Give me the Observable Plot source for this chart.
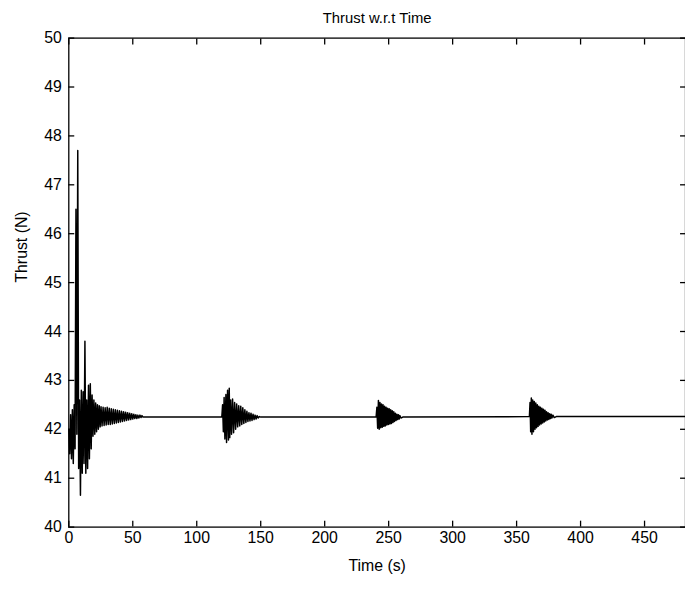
<!DOCTYPE html>
<html>
<head>
<meta charset="utf-8">
<script src="https://cdn.jsdelivr.net/npm/d3@7"></script>
<script src="https://cdn.jsdelivr.net/npm/@observablehq/plot@0.6"></script>
<style>
  html, body { margin: 0; padding: 0; background: #fff; }
  #wrap { width: 685px; height: 589px; overflow: hidden; }
  #wrap svg { font-family: "Liberation Sans", Arial, sans-serif; }
</style>
</head>
<body>
<div id="wrap"></div>
<script>
// Text
const titleText = "Thrust w.r.t Time";
const xLabel = "Time (s)";
const yLabel = "Thrust (N)";

// Tick values
const xTicks = [0, 50, 100, 150, 200, 250, 300, 350, 400, 450];
const yTicks = [40, 41, 42, 43, 44, 45, 46, 47, 48, 49, 50];

// Start-up transient (peaks / troughs)
const startTime = [0, 0.7, 1.4, 2.1, 2.8, 3.5, 4.2, 4.9, 5.6, 6.3, 7.0, 7.7, 8.4, 9.1, 9.8, 10.5, 11.2, 11.9, 12.6, 13.3,
  14.0, 14.7, 15.4, 16.1, 16.8, 17.5, 18.2, 18.9, 19.6, 20.3, 21.0, 21.7, 22.4, 23.1, 23.8, 24.5,
  25.2, 26.0, 26.8, 27.6, 28.4, 29.2, 30.0, 30.8, 31.6, 32.4, 33.2, 34.0, 34.8, 35.6, 36.4, 37.2,
  38.0, 38.8, 39.6, 40.4, 41.2, 42.0, 42.8, 43.6, 44.4, 45.2, 46.0, 46.8, 47.6, 48.4, 49.2, 50.0,
  50.8, 51.6, 52.4, 53.2, 54.0, 54.8, 55.6, 56.4, 57.2, 58.0, 60.0];
const startThrust = [42.0, 41.5, 42.3, 41.4, 42.4, 41.3, 42.5, 41.6, 46.5, 41.9, 47.7, 41.2, 42.6, 40.65, 42.8, 41.1, 42.77, 41.3, 43.8, 41.1,
  42.6, 41.2, 42.9, 41.4, 42.93, 41.6, 42.7, 41.86, 42.6, 41.9, 42.54, 41.95, 42.5, 42.0, 42.48, 42.05,
  42.46, 42.07, 42.45, 42.08, 42.44, 42.09, 42.45, 42.10, 42.43, 42.10, 42.42, 42.11, 42.41, 42.12, 42.40, 42.13,
  42.39, 42.14, 42.38, 42.15, 42.37, 42.16, 42.36, 42.17, 42.35, 42.18, 42.34, 42.19, 42.33, 42.20, 42.32, 42.21,
  42.31, 42.22, 42.30, 42.22, 42.29, 42.23, 42.29, 42.24, 42.28, 42.25, 42.25];

// Disturbance near t = 120 s
const burst2Time = [119.6, 120.2, 120.8, 121.4, 122.0, 122.8, 123.3, 124.1, 124.8, 125.4, 125.8, 126.5, 127.2, 128.0, 128.8,
  129.6, 130.4, 131.2, 132.0, 132.8, 133.6, 134.4, 135.2, 136.0, 136.8, 137.6, 138.4, 139.2, 140.0, 140.8,
  141.6, 142.4, 143.2, 144.0, 144.8, 145.6, 146.4, 147.2, 148.0, 149.0, 150.0];
const burst2Thrust = [42.25, 42.50, 41.95, 42.65, 41.80, 42.71, 41.73, 42.80, 41.78, 42.84, 41.83, 42.60, 41.90, 42.62, 41.93,
  42.55, 42.00, 42.52, 42.05, 42.48, 42.07, 42.47, 42.10, 42.44, 42.12, 42.40, 42.14, 42.37, 42.16, 42.34,
  42.17, 42.33, 42.18, 42.31, 42.20, 42.29, 42.21, 42.28, 42.23, 42.26, 42.25];

// Disturbance near t = 240 s
const burst3Time = [240.2, 240.8, 241.4, 242.0, 242.6, 243.2, 243.8, 244.4, 245.0, 245.6, 246.2, 246.8, 247.4, 248.0, 248.6,
  249.2, 249.8, 250.4, 251.0, 251.6, 252.2, 252.8, 253.4, 254.0, 254.6, 255.2, 255.8, 256.4, 257.0, 257.6,
  258.2, 258.8, 259.6, 261.0];
const burst3Thrust = [42.25, 42.45, 42.02, 42.59, 42.00, 42.55, 42.03, 42.52, 42.04, 42.50, 42.06, 42.47, 42.07, 42.45, 42.09,
  42.43, 42.10, 42.42, 42.11, 42.40, 42.12, 42.38, 42.14, 42.36, 42.16, 42.33, 42.18, 42.31, 42.20, 42.30,
  42.21, 42.28, 42.23, 42.25];

// Disturbance near t = 360 s
const burst4Time = [360.0, 360.5, 361.0, 361.5, 362.0, 362.6, 363.2, 363.8, 364.4, 365.0, 365.6, 366.2, 366.8, 367.4, 368.0,
  368.6, 369.2, 369.8, 370.4, 371.0, 371.6, 372.2, 372.8, 373.4, 374.0, 374.6, 375.2, 375.8, 376.4, 377.0,
  377.6, 378.4, 379.4, 381.0, 383.0, 482.0];
const burst4Thrust = [42.26, 42.55, 41.95, 42.64, 41.90, 42.60, 41.95, 42.57, 42.00, 42.54, 42.03, 42.50, 42.06, 42.47, 42.09,
  42.45, 42.11, 42.43, 42.13, 42.41, 42.15, 42.39, 42.17, 42.36, 42.19, 42.34, 42.20, 42.32, 42.22, 42.31,
  42.23, 42.29, 42.24, 42.26, 42.26, 42.26];

const times = [...startTime, ...burst2Time, ...burst3Time, ...burst4Time];
const thrusts = [...startThrust, ...burst2Thrust, ...burst3Thrust, ...burst4Thrust];
const data = times.map((t, i) => ({t, v: thrusts[i]}));

const chart = Plot.plot({
  width: 692,
  height: 589,
  marginTop: 38,
  marginBottom: 57,
  marginLeft: 69,
  marginRight: 0,
  style: {fontFamily: '"Liberation Sans", Arial, sans-serif', fontSize: "16px", color: "black", background: "white"},
  x: {domain: [0, 482], ticks: xTicks},
  y: {domain: [40, 50], ticks: yTicks},
  marks: [
    Plot.line(data, {x: "t", y: "v", stroke: "black", strokeWidth: 1.5}),
    Plot.frame({stroke: "black", strokeWidth: 1.3}),
    Plot.axisX(xTicks, {anchor: "bottom", tickSize: -6, tickPadding: 11, label: null, fontSize: 16, strokeWidth: 1.3}),
    Plot.axisX(xTicks, {anchor: "top", tickSize: -6, tickFormat: () => "", label: null, strokeWidth: 1.3}),
    Plot.axisY(yTicks, {anchor: "left", tickSize: -6, tickPadding: 13, label: null, fontSize: 16, strokeWidth: 1.3}),
    Plot.axisY(yTicks, {anchor: "right", tickSize: -6, tickFormat: () => "", label: null, strokeWidth: 1.3}),
    Plot.text([titleText], {frameAnchor: "top", dy: -26, fontSize: 15, fill: "black"}),
    Plot.text([xLabel], {frameAnchor: "bottom", dy: 44, fontSize: 16, fill: "black"}),
    Plot.text([yLabel], {frameAnchor: "left", dx: -47, rotate: -90, fontSize: 16, fill: "black"})
  ]
});
document.getElementById("wrap").appendChild(chart);
</script>
</body>
</html>
